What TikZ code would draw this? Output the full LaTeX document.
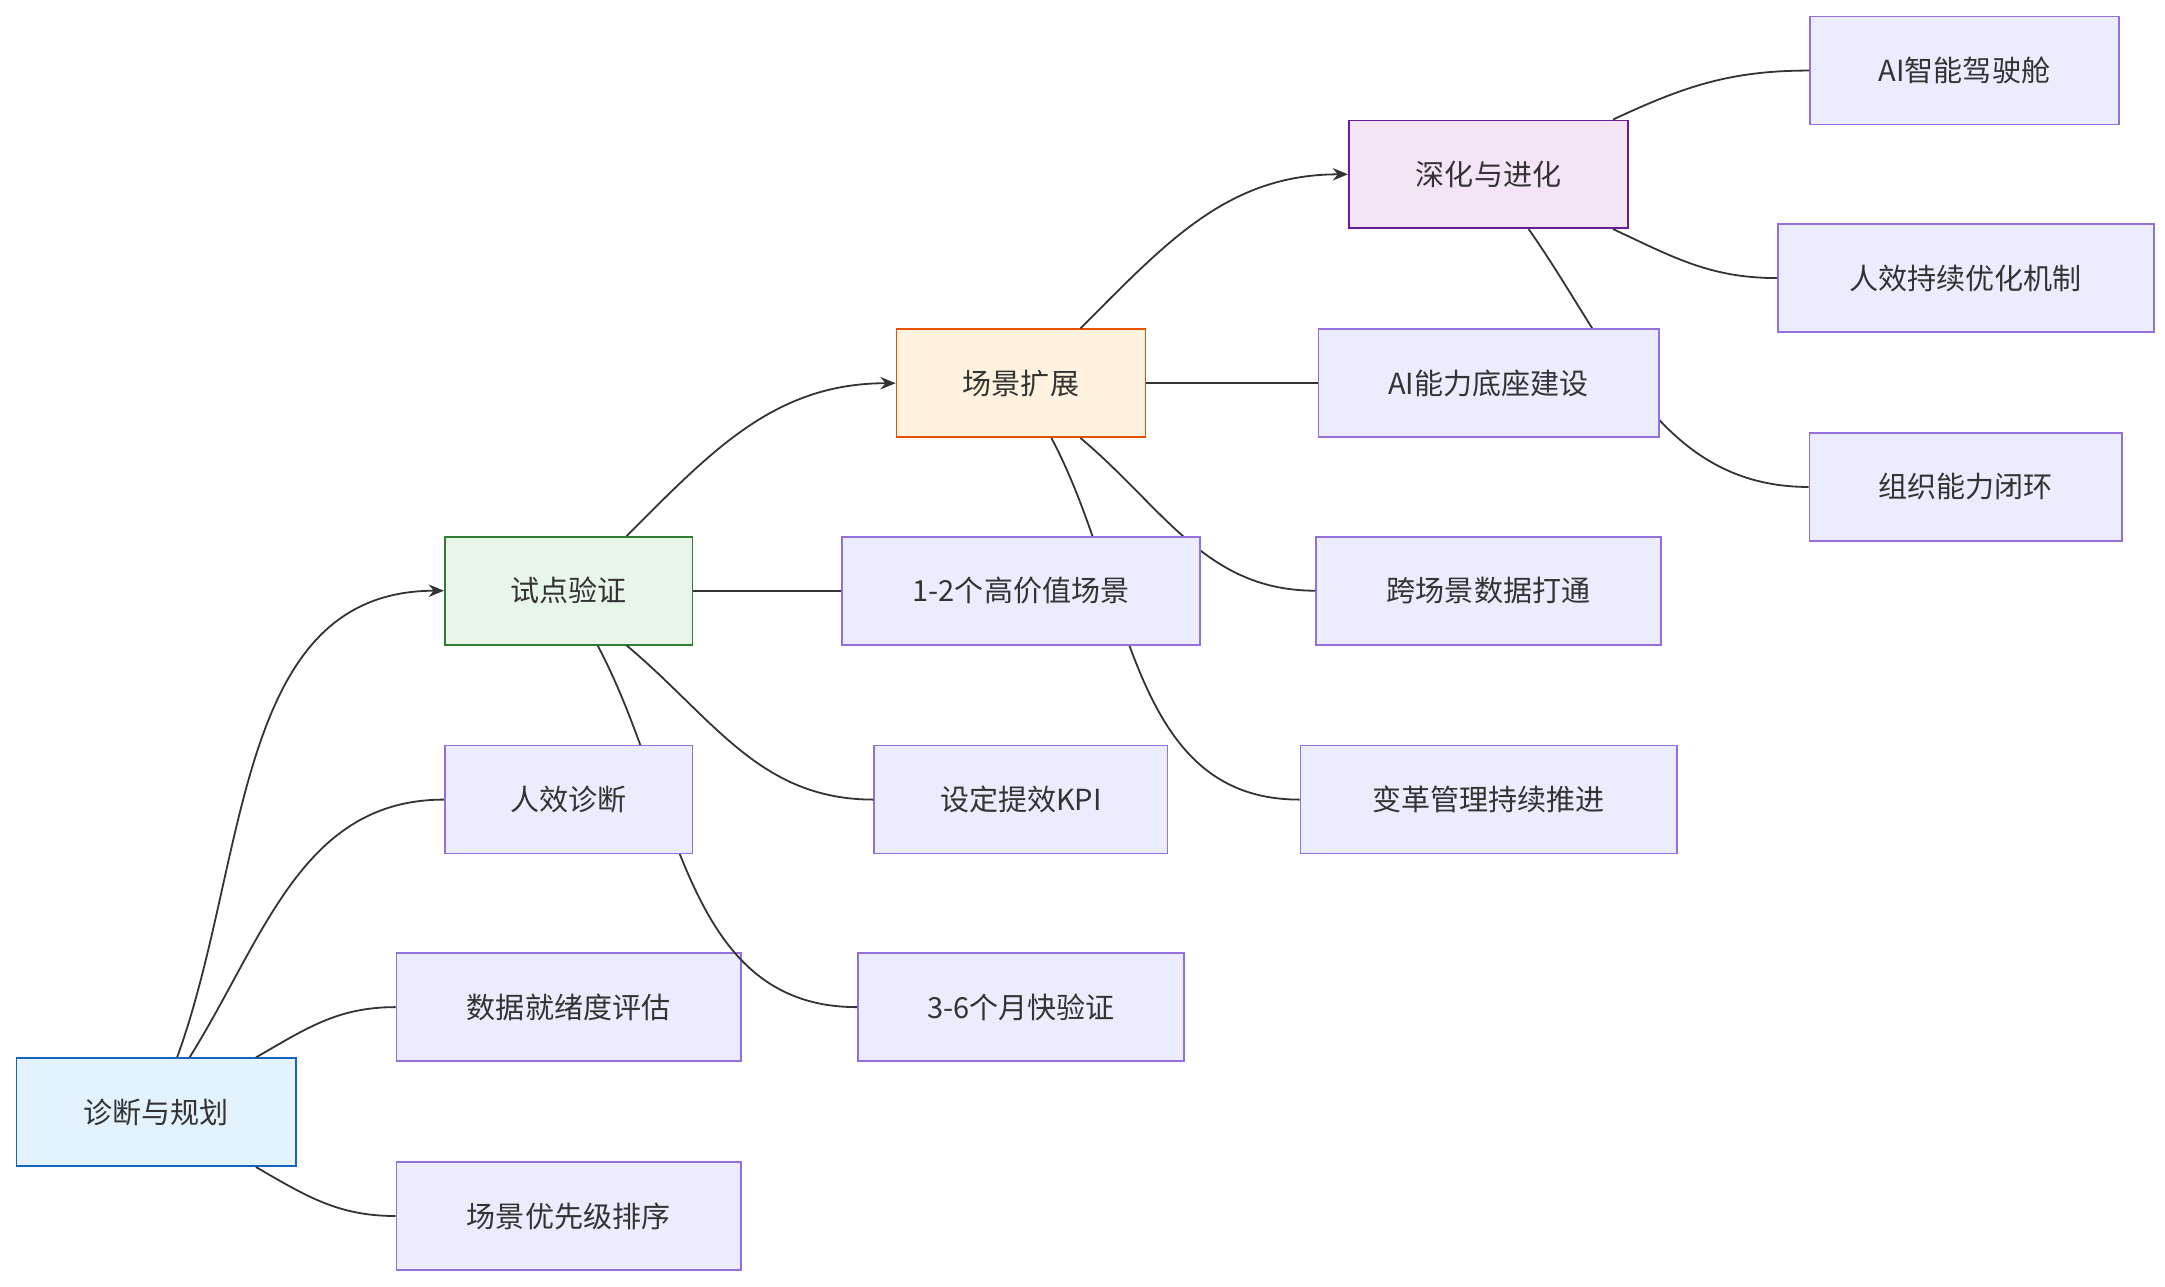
\documentclass[tikz,border=0pt]{standalone}
\usepackage{fontspec}
\setmainfont{Noto Sans CJK SC}
\usetikzlibrary{arrows.meta}
\definecolor{dfill}{HTML}{ECECFF}\definecolor{dline}{HTML}{9370DB}
\definecolor{bfill}{HTML}{E3F2FD}\definecolor{bline}{HTML}{1565C0}
\definecolor{gfill}{HTML}{E8F5E9}\definecolor{gline}{HTML}{2E7D32}
\definecolor{ofill}{HTML}{FFF3E0}\definecolor{oline}{HTML}{E65100}
\definecolor{pfill}{HTML}{F3E5F5}\definecolor{pline}{HTML}{6A1B9A}
\definecolor{edge}{HTML}{333333}
\begin{document}
\begin{tikzpicture}[x=1pt,y=-1pt,
 box/.style={draw=dline,fill=dfill,line width=1.2pt,minimum height=78pt,inner sep=0pt,text=edge,font=\fontsize{21}{24}\selectfont},
 e/.style={draw=edge,line width=1.3pt},
 a/.style={e,-{Stealth[length=11pt,width=9pt]}}]
\useasboundingbox (0,0) rectangle (1565,930);
% nodes coordinates first (drawn later on top) via path pic trick: define nodes with phantom then redraw
\begin{scope}[on background layer/.style={}]
\end{scope}
\node[box,draw=bline,fill=bfill,minimum width=202pt] (d) at (113,804) {诊断与规划};
\node[box,draw=gline,fill=gfill,minimum width=179pt] (s) at (411,427) {试点验证};
\node[box,draw=oline,fill=ofill,minimum width=180pt] (k) at (738,277) {场景扩展};
\node[box,draw=pline,fill=pfill,minimum width=202pt] (h) at (1076,126) {深化与进化};
\node[box,minimum width=179pt] (n1) at (411,578) {人效诊断};
\node[box,minimum width=249pt] (n2) at (411,728) {数据就绪度评估};
\node[box,minimum width=249pt] (n3) at (411,879) {场景优先级排序};
\node[box,minimum width=259pt] (m1) at (738,427) {1-2个高价值场景};
\node[box,minimum width=212pt] (m2) at (738,578) {设定提效KPI};
\node[box,minimum width=236pt] (m3) at (738,728) {3-6个月快验证};
\node[box,minimum width=246pt] (p1) at (1076,277) {AI能力底座建设};
\node[box,minimum width=249pt] (p2) at (1076,427) {跨场景数据打通};
\node[box,minimum width=272pt] (p3) at (1076,578) {变革管理持续推进};
\node[box,minimum width=223pt] (q1) at (1420,51) {AI智能驾驶舱};
\node[box,minimum width=272pt] (q2) at (1421,201) {人效持续优化机制};
\node[box,minimum width=226pt] (q3) at (1421,352) {组织能力闭环};
% edges
\draw[a] ([xshift=15pt]d.north) to[out=70,in=180] (s.west);
\draw[e] ([xshift=24pt]d.north) to[out=58,in=180] (n1.west);
\draw[e] ([xshift=72pt]d.north) to[out=30,in=180] (n2.west);
\draw[e] ([xshift=72pt]d.south) to[out=-30,in=180] (n3.west);
\draw[a] ([xshift=42pt]s.north) to[out=45,in=180] (k.west);
\draw[e] (s.east) -- (m1.west);
\draw[e] ([xshift=42pt]s.south) to[out=-40,in=180] (m2.west);
\draw[e] ([xshift=21pt]s.south) to[out=-62,in=180] (m3.west);
\draw[a] ([xshift=43pt]k.north) to[out=45,in=180] (h.west);
\draw[e] (k.east) -- (p1.west);
\draw[e] ([xshift=43pt]k.south) to[out=-40,in=180] (p2.west);
\draw[e] ([xshift=22pt]k.south) to[out=-62,in=180] (p3.west);
\draw[e] ([xshift=90pt]h.north) to[out=25,in=180] (q1.west);
\draw[e] ([xshift=90pt]h.south) to[out=-25,in=180] (q2.west);
\draw[e] ([xshift=29pt]h.south) to[out=-55,in=180] (q3.west);
% redraw covered nodes on top
\node[box,minimum width=179pt] at (411,578) {人效诊断};
\node[box,minimum width=259pt] at (738,427) {1-2个高价值场景};
\node[box,minimum width=246pt] at (1076,277) {AI能力底座建设};
\end{tikzpicture}
\end{document}
